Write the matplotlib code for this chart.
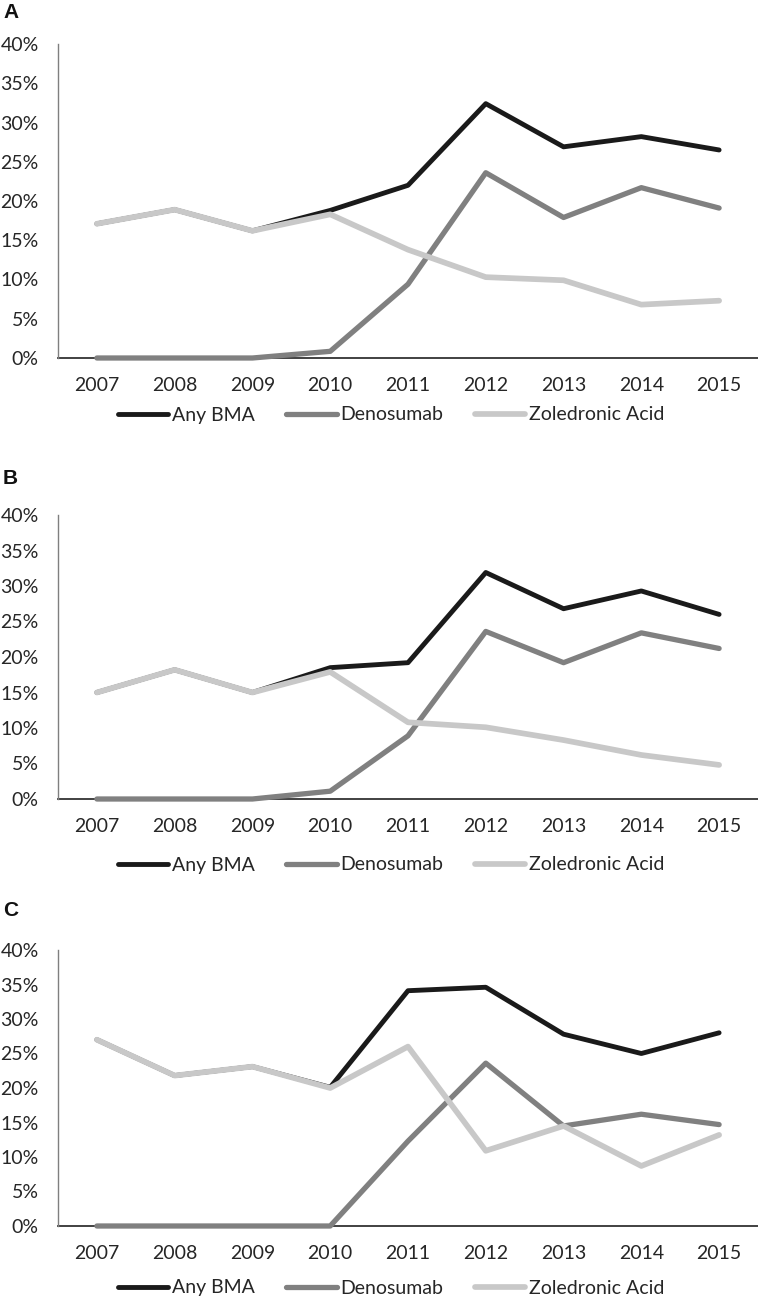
import matplotlib
matplotlib.use("Agg")
import matplotlib.pyplot as plt
from matplotlib.ticker import PercentFormatter
import numpy as np

years = ["2007", "2008", "2009", "2010", "2011", "2012", "2013", "2014", "2015"]
series_names = ["Any BMA", "Denosumab", "Zoledronic Acid"]
panel_labels = ["A", "B", "C"]

# Panel A (percent)
a_any = [17.1, 18.9, 16.2, 18.8, 22.0, 32.4, 26.9, 28.2, 26.5]
a_den = [0.0, 0.0, 0.0, 0.85, 9.4, 23.6, 17.9, 21.7, 19.1]
a_zol = [17.1, 18.9, 16.2, 18.3, 13.8, 10.3, 9.9, 6.8, 7.3]

# Panel B (percent)
b_any = [15.0, 18.2, 15.0, 18.5, 19.2, 31.9, 26.8, 29.3, 26.0]
b_den = [0.0, 0.0, 0.0, 1.1, 8.9, 23.6, 19.2, 23.4, 21.2]
b_zol = [15.0, 18.2, 15.0, 17.9, 10.8, 10.1, 8.3, 6.2, 4.8]

# Panel C (percent)
c_any = [27.0, 21.8, 23.1, 20.1, 34.1, 34.6, 27.8, 25.0, 28.0]
c_den = [0.0, 0.0, 0.0, 0.0, 12.3, 23.6, 14.5, 16.2, 14.7]
c_zol = [27.0, 21.8, 23.1, 20.0, 26.0, 10.9, 14.5, 8.7, 13.2]

y_ticks = [0, 5, 10, 15, 20, 25, 30, 35, 40]

W, H = 758, 1299
colors = ["#1a1a1a", "#808080", "#c8c8c8"]
widths = [3.5, 3.8, 4.1]
text_color = "#262626"
FONT = ["Lato", "DejaVu Sans"]
FS = 14

fig = plt.figure(figsize=(W / 100, H / 100), dpi=100)

panels = [
    (a_any, a_den, a_zol, 44, 358, 12, 415),
    (b_any, b_den, b_zol, 515, 799, 478, 865),
    (c_any, c_den, c_zol, 950, 1226, 910, 1288),
]

for (s_any, s_den, s_zol, top, bottom, lab_y, leg_y), plabel in zip(panels, panel_labels):
    ax = fig.add_axes([58 / W, 1 - bottom / H, 700 / W, (bottom - top) / H])
    x = np.arange(len(years))
    handles = []
    for vals, col, lw, name, z in zip([s_any, s_den, s_zol], colors, widths, series_names, [3, 4, 5]):
        h, = ax.plot(x, vals, color=col, lw=lw, solid_capstyle="round",
                     solid_joinstyle="round", label=name, zorder=z, clip_on=False)
        handles.append(h)
    ax.set_xlim(-0.5, len(years) - 0.5)
    ax.set_ylim(0, 40)
    ax.set_yticks(y_ticks)
    ax.yaxis.set_major_formatter(PercentFormatter(100, decimals=0))
    ax.set_xticks(x)
    ax.set_xticklabels(years)
    ax.tick_params(axis="x", length=0, pad=14, labelsize=FS, labelcolor=text_color)
    ax.tick_params(axis="y", length=0, pad=14, labelsize=FS, labelcolor=text_color)
    for lbl in ax.get_xticklabels() + ax.get_yticklabels():
        lbl.set_family(FONT)
    for s in ["top", "right"]:
        ax.spines[s].set_visible(False)
    ax.spines["left"].set_color("#7f7f7f")
    ax.spines["left"].set_linewidth(1.0)
    ax.spines["bottom"].set_color("#333333")
    ax.spines["bottom"].set_linewidth(1.3)
    ax.spines["bottom"].set_zorder(2)
    ax.set_facecolor("none")

    fig.text(3 / W, 1 - lab_y / H, plabel, fontsize=15, fontweight="bold",
             ha="left", va="center", family=["Liberation Sans", "DejaVu Sans"],
             color="#111111")

    leg = fig.legend(handles, series_names, loc="center",
                     bbox_to_anchor=(391 / W, 1 - leg_y / H), ncol=3, frameon=False,
                     handlelength=2.6, handletextpad=0.2, columnspacing=1.6,
                     prop={"family": FONT, "size": FS})
    for t in leg.get_texts():
        t.set_color(text_color)

fig.savefig("out.png", dpi=100)
